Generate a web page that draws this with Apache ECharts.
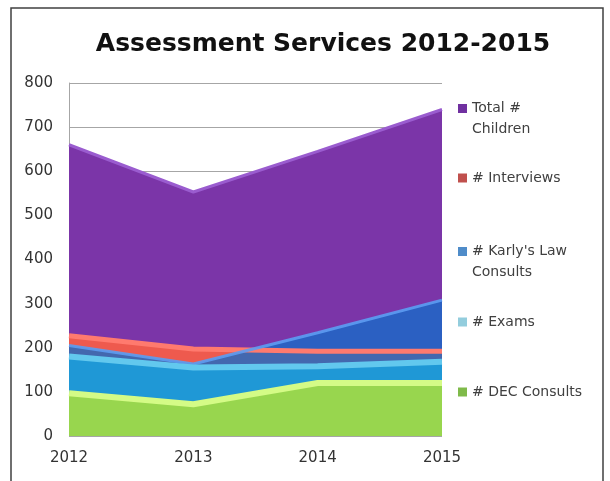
<!DOCTYPE html>
<html><head><meta charset="utf-8">
<script src="https://cdn.jsdelivr.net/npm/echarts@6/dist/echarts.min.js"></script>
<style>html,body{margin:0;padding:0;background:#fff}#c{width:610px;height:481px}</style>
</head><body><div id="c"></div>
<script>
const years = ['2012', '2013', '2014', '2015'];
const totalChildren = [660, 553, 645, 740];
const interviews = [227, 197, 192, 192];
const karlysLaw = [205, 163, 234, 308];
const exams = [180, 155, 158, 168];
const decConsults = [97, 72, 120, 120];
const seriesNames = ['Total # Children', '# Interviews', "# Karly's Law Consults", '# Exams', '# DEC Consults'];
const yTicks = [0, 100, 200, 300, 400, 500, 600, 700, 800];

const chart = echarts.init(document.getElementById('c'), null, {renderer: 'canvas'});
const FONT = 'DejaVu Sans';
function legendAt(name, top, color, label) {
  return {
    data: [{name: name, itemStyle: {color: color}}],
    left: 458, top: top, padding: 0, icon: 'rect', itemWidth: 9, itemHeight: 9,
    formatter: () => label,
    textStyle: {fontFamily: FONT, fontSize: 14, color: '#404040', lineHeight: 21}
  };
}
const option = {
  animation: false,
  backgroundColor: '#fff',
  title: {text: 'Assessment Services 2012-2015', left: 318, top: 27, textAlign: 'center',
    textStyle: {fontFamily: 'DejaVu Sans', fontWeight: 'bold', fontSize: 25, color: '#111'}},
  graphic: [{type: 'rect', shape: {x: 11, y: 8, width: 592, height: 490}, silent: true,
    style: {fill: 'none', stroke: '#404040', lineWidth: 1.5}}],
  legend: [
    legendAt(seriesNames[0], 77, '#7030a0', ' \nTotal #\nChildren'),
    legendAt(seriesNames[1], 167.5, '#c0504d', '# Interviews'),
    legendAt(seriesNames[2], 220, '#4f8cc9', " \n# Karly's Law\nConsults"),
    legendAt(seriesNames[3], 311.5, '#93cddd', '# Exams'),
    legendAt(seriesNames[4], 381.5, '#7fba4a', '# DEC Consults')
  ],
  grid: {left: 69, right: 168, top: 83, bottom: 45, containLabel: false},
  xAxis: {type: 'category', data: years, boundaryGap: false,
    axisLine: {show: false}, axisTick: {show: false},
    axisLabel: {fontFamily: FONT, fontSize: 15, color: '#333', margin: 15}},
  yAxis: {type: 'value', min: yTicks[0], max: yTicks[yTicks.length - 1], interval: 100,
    axisLine: {show: true, lineStyle: {color: '#a6a6a6'}}, axisTick: {show: false},
    splitLine: {lineStyle: {color: '#a6a6a6', width: 1}},
    axisLabel: {fontFamily: FONT, fontSize: 15, color: '#333', margin: 16}},
  series: [
    {name: seriesNames[0], type: 'line', data: totalChildren, symbol: 'none',
      lineStyle: {color: '#9a5ccf', width: 3}, areaStyle: {color: '#7b35a8', opacity: 1}},
    {name: seriesNames[1], type: 'line', data: interviews, symbol: 'none',
      lineStyle: {color: '#ff7a6e', width: 5}, areaStyle: {color: '#ee5a4e', opacity: 1}},
    {name: seriesNames[2], type: 'line', data: karlysLaw, symbol: 'none',
      lineStyle: {color: '#5c9cf2', width: 3, opacity: 0.9}, areaStyle: {color: '#186cc8', opacity: 0.8}},
    {name: seriesNames[3], type: 'line', data: exams, symbol: 'none',
      lineStyle: {color: '#62c8ee', width: 6}, areaStyle: {color: '#1f98d6', opacity: 1}},
    {name: seriesNames[4], type: 'line', data: decConsults, symbol: 'none',
      lineStyle: {color: '#d4fb86', width: 6}, areaStyle: {color: '#98d64e', opacity: 1}}
  ]
};
chart.setOption(option);
</script></body></html>
